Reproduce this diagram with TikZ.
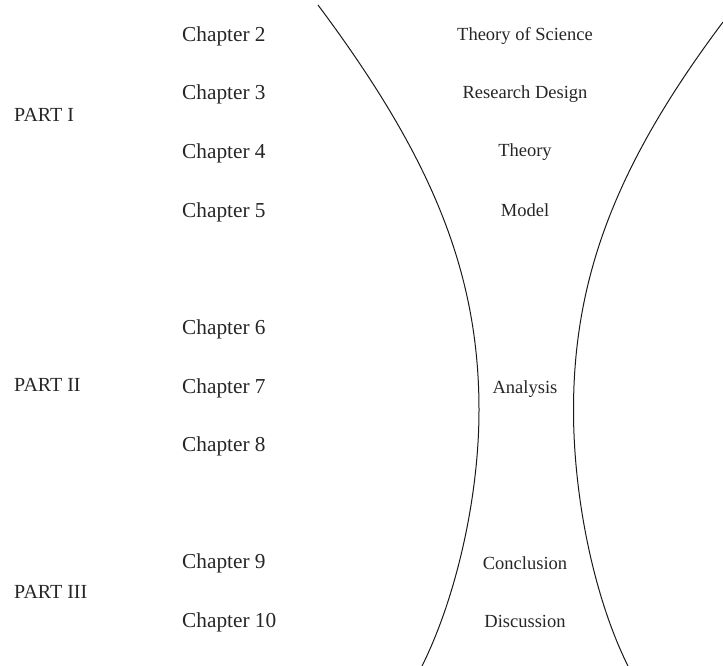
\documentclass[tikz,border=0pt]{standalone}
\usepackage{fontspec}
\setmainfont{Liberation Serif}
\begin{document}
\begin{tikzpicture}[x=1pt,y=-1pt,
  chap/.style={anchor=base west,inner sep=0pt,font=\fontsize{21.3}{24}\selectfont,text=black!85},
  part/.style={anchor=base west,inner sep=0pt,font=\fontsize{20}{24}\selectfont,text=black!85},
  topic/.style={anchor=base,inner sep=0pt,font=\fontsize{18.5}{22}\selectfont,text=black!85},
  funnel/.style={line width=1pt,black!90}]
\useasboundingbox (0,0) rectangle (723,666);
\clip (0,0) rectangle (723,666);

% parts
\node[part] (p1) at (14,122) {PART I};
\node[part] (p2) at (14,391) {PART II};
\node[part] (p3) at (14,598) {PART III};

% chapters
\node[chap] (c2) at (182,42) {Chapter 2};
\node[chap] (c3) at (182,100) {Chapter 3};
\node[chap] (c4) at (182,158) {Chapter 4};
\node[chap] (c5) at (182,217) {Chapter 5};
\node[chap] (c6) at (182,334) {Chapter 6};
\node[chap] (c7) at (182,393) {Chapter 7};
\node[chap] (c8) at (182,451) {Chapter 8};
\node[chap] (c9) at (182,568) {Chapter 9};
\node[chap] (c10) at (182,627) {Chapter 10};

% topics inside the funnel
\node[topic] (t1) at (525,41) {Theory of Science};
\node[topic] (t2) at (525,99) {Research Design};
\node[topic] (t3) at (525,157) {Theory};
\node[topic] (t4) at (525,216) {Model};
\node[topic] (t5) at (525,393) {Analysis};
\node[topic] (t6) at (525,569) {Conclusion};
\node[topic] (t7) at (525,627) {Discussion};

% funnel walls: narrowest around the analysis part
\draw[funnel] (318,5) .. controls (430,155) and (479,270) .. (479,410)
                      .. controls (479,500) and (455,600) .. (422,666);
\draw[funnel] (723,22) .. controls (618,162) and (573.5,275) .. (573.5,410)
                       .. controls (573.5,500) and (595,600) .. (628,666);
\end{tikzpicture}
\end{document}
